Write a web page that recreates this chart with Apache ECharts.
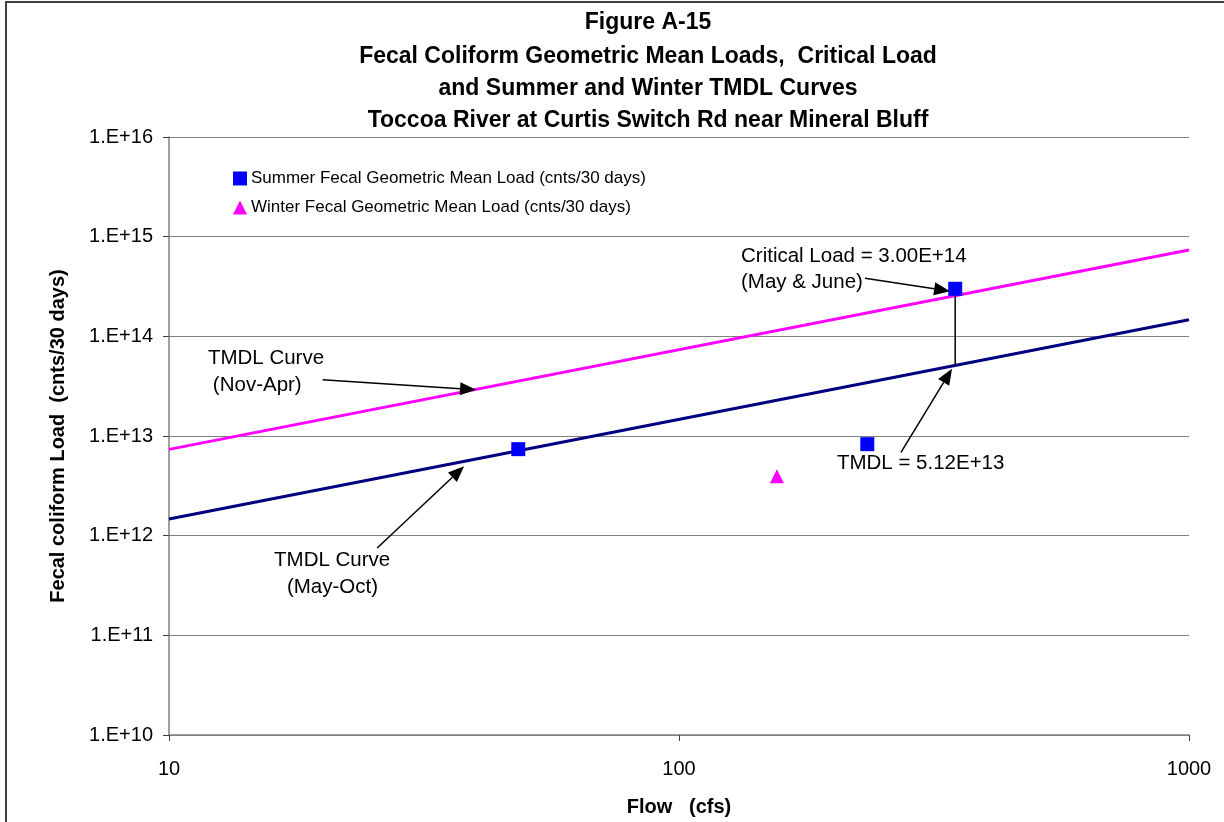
<!DOCTYPE html>
<html><head><meta charset="utf-8">
<script src="https://cdn.jsdelivr.net/npm/echarts@6/dist/echarts.min.js"></script>
<style>html,body{margin:0;padding:0;background:#fff}#c{width:1224px;height:822px}</style>
</head><body><div id="c"></div>
<script>
// ---- data ----
const titleLines = ['Figure A-15', 'Fecal Coliform Geometric Mean Loads,  Critical Load', 'and Summer and Winter TMDL Curves', 'Toccoa River at Curtis Switch Rd near Mineral Bluff'];
const xTitle = 'Flow   (cfs)';
const yTitle = 'Fecal coliform Load  (cnts/30 days)';
const summerName = 'Summer Fecal Geometric Mean Load (cnts/30 days)';
const winterName = 'Winter Fecal Geometric Mean Load (cnts/30 days)';
const summerPoints = [[48.4, 7.38e12], [234, 8.28e12], [348, 3.00e14]];
const winterPoints = [[155.6, 3.94e12]];
const winterTmdlCurve = [[10, 7.34e12], [1000, 7.34e14]];
const summerTmdlCurve = [[10, 1.468e12], [1000, 1.468e14]];
const criticalLink = [[348, 3.00e14], [348, 5.12e13]];
const xTickLabels = ['10', '100', '1000'];
const yTickLabels = ['1.E+10', '1.E+11', '1.E+12', '1.E+13', '1.E+14', '1.E+15', '1.E+16'];
const annotationTexts = ['Critical Load = 3.00E+14', '(May & June)', 'TMDL = 5.12E+13', 'TMDL Curve', '(Nov-Apr)', 'TMDL Curve', '(May-Oct)'];

// ---- annotation anchors (data coordinates) ----
const annotationAnchors = [[132.3, 6.34e14], [132.3, 3.49e14], [204, 5.32e12], [11.92, 6.08e13], [12.19, 3.19e13], [16.07, 5.71e11], [17.03, 3.00e11]];
const arrowSegments = [
  [[231.6, 3.82e14], [340, 2.84e14]],
  [[272.4, 6.85e12], [343, 4.72e13]],
  [[20.0, 3.66e13], [40.0, 2.91e13]],
  [[25.6, 7.53e11], [37.9, 4.96e12]]
];

const FONT = "'Liberation Sans', Arial, sans-serif";
const chart = echarts.init(document.getElementById('c'), null, {renderer: 'canvas'});

const option = {
  animation: false,
  backgroundColor: '#fff',
  grid: {left: 169, right: 35, top: 137, bottom: 84, containLabel: false},
  legend: {
    orient: 'vertical', left: 228, top: 165, itemWidth: 14, itemHeight: 14, itemGap: 12,
    selectedMode: false,
    data: [summerName, winterName],
    textStyle: {fontFamily: FONT, fontSize: 17, color: '#000', lineHeight: 17, padding: [0, 0, 0, -1]}
  },
  xAxis: {
    type: 'log', logBase: 10, min: 10, max: 1000, splitNumber: 2,
    name: xTitle, nameLocation: 'middle', nameGap: 62,
    nameTextStyle: {fontFamily: FONT, fontSize: 20, fontWeight: 'bold', color: '#000'},
    axisLine: {show: true, lineStyle: {color: '#808080', width: 1.5}},
    axisTick: {show: true, length: 6, lineStyle: {color: '#404040'}},
    axisLabel: {fontFamily: FONT, fontSize: 20, color: '#000', margin: 24,
      formatter: v => xTickLabels[Math.round(Math.log10(v)) - 1]},
    splitLine: {show: false}, minorTick: {show: false}
  },
  yAxis: {
    type: 'log', logBase: 10, min: 1e10, max: 1e16, splitNumber: 6,
    name: yTitle, nameLocation: 'middle', nameGap: 101,
    nameTextStyle: {fontFamily: FONT, fontSize: 20, fontWeight: 'bold', color: '#000'},
    axisLine: {show: true, lineStyle: {color: '#808080', width: 1.5}},
    axisTick: {show: true, length: 6, lineStyle: {color: '#404040'}},
    axisLabel: {fontFamily: FONT, fontSize: 20, color: '#000', margin: 16,
      formatter: v => yTickLabels[Math.round(Math.log10(v)) - 10]},
    splitLine: {show: true, lineStyle: {color: '#808080', width: 1.2}}, minorTick: {show: false}
  },
  series: [
    {name: 'Winter TMDL', type: 'line', data: winterTmdlCurve, symbol: 'none', silent: true,
      lineStyle: {color: '#FF00FF', width: 3}, z: 2},
    {name: 'Summer TMDL', type: 'line', data: summerTmdlCurve, symbol: 'none', silent: true,
      lineStyle: {color: '#000080', width: 3}, z: 2},
    {name: 'Critical link', type: 'line', data: criticalLink, symbol: 'none', silent: true,
      lineStyle: {color: '#000', width: 1.5}, z: 3},
    {name: summerName, type: 'scatter', data: summerPoints, symbol: 'rect', symbolSize: 14,
      itemStyle: {color: '#0000FF', opacity: 1}, z: 5},
    {name: winterName, type: 'scatter', data: winterPoints, symbol: 'triangle', symbolSize: 14,
      itemStyle: {color: '#FF00FF', opacity: 1}, z: 5}
  ]
};
chart.setOption(option);

// ---- overlay graphics: titles, annotations, arrows, frame ----
const graphics = [];
graphics.push({type: 'rect', shape: {x: 6, y: 2, width: 1240, height: 840}, style: {fill: 'none', stroke: '#404040', lineWidth: 2}, silent: true, z: 100});
const titleY = [23, 57, 89, 121];
titleLines.forEach((t, i) => graphics.push({
  type: 'text', x: 648, y: titleY[i], silent: true, z: 100,
  style: {text: t, fontFamily: FONT, fontSize: 23, fontWeight: 'bold', fill: '#000', align: 'center', verticalAlign: 'middle'}
}));
annotationTexts.forEach((t, i) => {
  const p = chart.convertToPixel({gridIndex: 0}, annotationAnchors[i]);
  graphics.push({type: 'text', x: p[0], y: p[1], silent: true, z: 100,
    style: {text: t, fontFamily: FONT, fontSize: 20.5, fill: '#000', align: 'left', verticalAlign: 'middle'}});
});
arrowSegments.forEach(seg => {
  const a = chart.convertToPixel({gridIndex: 0}, seg[0]);
  const b = chart.convertToPixel({gridIndex: 0}, seg[1]);
  const dx = b[0] - a[0], dy = b[1] - a[1];
  const len = Math.hypot(dx, dy), ux = dx / len, uy = dy / len;
  const L = 16, W = 6.5;
  const bx = b[0] - ux * L, by = b[1] - uy * L;
  graphics.push({type: 'line', silent: true, z: 100, shape: {x1: a[0], y1: a[1], x2: bx, y2: by}, style: {stroke: '#000', lineWidth: 1.5}});
  graphics.push({type: 'polygon', silent: true, z: 100,
    shape: {points: [[b[0], b[1]], [bx - uy * W, by + ux * W], [bx + uy * W, by - ux * W]]},
    style: {fill: '#000'}});
});
chart.setOption({graphic: graphics});
</script></body></html>
